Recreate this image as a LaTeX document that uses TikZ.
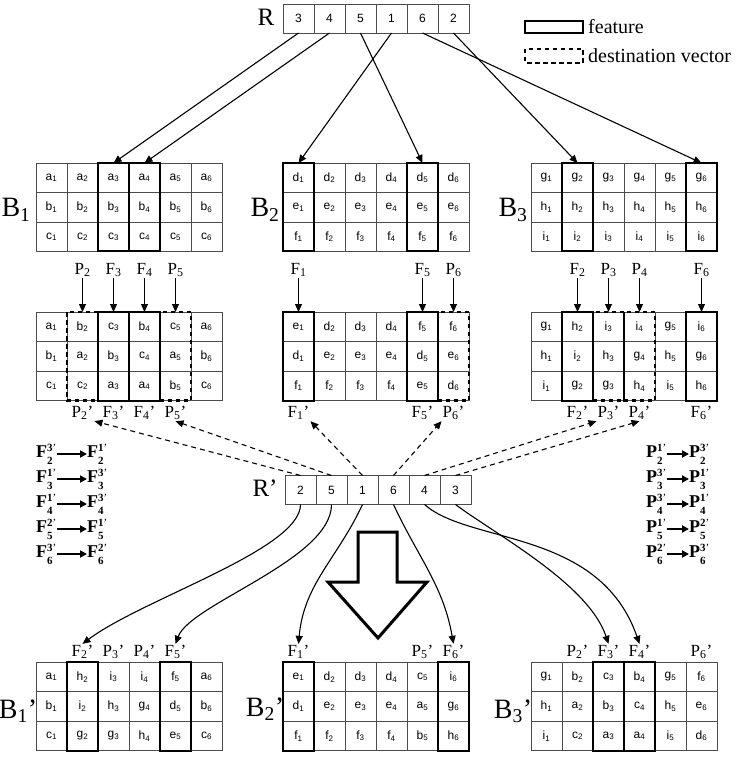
\documentclass[tikz,border=0pt]{standalone}
\usepackage{fontspec}
\setmainfont{Liberation Serif}
\newfontfamily\cellfont{Liberation Sans}
\usetikzlibrary{arrows.meta,calc}
\newcommand\cv[2]{#1\textsubscript{#2}}
\newcommand\cellgrid[6]{%
  \foreach \t [count=\c] in {#4} {\node[cell] (#1-1-\c) at ({#2+31*(\c-0.5)},{#3+14.75}) {\t};}
  \foreach \t [count=\c] in {#5} {\node[cell] (#1-2-\c) at ({#2+31*(\c-0.5)},{#3+44.25}) {\t};}
  \foreach \t [count=\c] in {#6} {\node[cell] (#1-3-\c) at ({#2+31*(\c-0.5)},{#3+73.75}) {\t};}
}
\newcommand\featcol[2]{\draw[feat] (#1-1-#2.north west) rectangle (#1-3-#2.south east);}
\newcommand\destcol[2]{\draw[dest] (#1-1-#2.north west) rectangle (#1-3-#2.south east);}
\newcommand\toplab[4]{\node[lab] (#4) at ($(#1-1-#2.north)+(0,-42)$) {#3}; \draw[arr] (#4) -- (#1-1-#2.north);}
\newcommand\botlab[4]{\node[lab] (#4) at ($(#1-3-#2.south)+(0,12.5)$) {#3};}
\newcommand\uplab[4]{\node[lab] (#4) at ($(#1-1-#2.north)+(0,-10)$) {#3};}
\newcommand\supsub[3]{\textbf{#1}\rlap{\raisebox{-0.36em}{\fontsize{11}{11}\selectfont\textbf{#3}}}\raisebox{0.36em}{\fontsize{11}{11}\selectfont\textbf{#2}’}}
\begin{document}
\begin{tikzpicture}[x=1pt,y=-1pt,
 cell/.style={draw=black!70, line width=0.7pt, minimum width=31pt, minimum height=29.5pt, inner sep=0pt, outer sep=0pt, font=\cellfont\fontsize{12}{12}\selectfont},
 rcell/.style={cell, minimum height=29pt},
 feat/.style={line width=2pt},
 dest/.style={line width=2.5pt, dash pattern=on 4.5pt off 3.5pt},
 lab/.style={font=\fontsize{17}{17}\selectfont, inner sep=1pt},
 big/.style={font=\fontsize{28}{28}\selectfont, inner sep=0pt},
 arr/.style={line width=1.1pt, -{Triangle[length=8pt,width=7pt]}},
 darr/.style={line width=1.1pt, dash pattern=on 5pt off 4pt, -{Triangle[length=8pt,width=7pt]}},
 fml/.style={font=\fontsize{18}{18}\selectfont, inner sep=0pt, anchor=west},
 farr/.style={line width=2pt, -{Triangle[length=7pt,width=7pt]}},
]
\useasboundingbox[fill=white] (0,0) rectangle (736,775);

% ---------- R ----------
\node[font=\fontsize{25}{25}\selectfont, inner sep=0pt] (Rlab) at (266,17) {R};
\foreach \t [count=\c] in {3,4,5,1,6,2} {\node[rcell] (r\c) at ({283+31*(\c-0.5)},18.5) {\t};}

% ---------- legend ----------
\draw[feat, line width=2.5pt] (525,21) rectangle (583,33);
\node[anchor=west, font=\fontsize{20}{20}\selectfont, inner sep=0pt] (legf) at (588,27) {feature};
\draw[dest] (525,49) rectangle (583,63);
\node[anchor=west, font=\fontsize{20}{20}\selectfont, inner sep=0pt] (legd) at (588,56) {destination vector};

% ---------- top grids ----------
\cellgrid{a}{36}{163}{\cv a1,\cv a2,\cv a3,\cv a4,\cv a5,\cv a6}{\cv b1,\cv b2,\cv b3,\cv b4,\cv b5,\cv b6}{\cv c1,\cv c2,\cv c3,\cv c4,\cv c5,\cv c6}
\cellgrid{b}{283}{163}{\cv d1,\cv d2,\cv d3,\cv d4,\cv d5,\cv d6}{\cv e1,\cv e2,\cv e3,\cv e4,\cv e5,\cv e6}{\cv f1,\cv f2,\cv f3,\cv f4,\cv f5,\cv f6}
\cellgrid{c}{531}{163}{\cv g1,\cv g2,\cv g3,\cv g4,\cv g5,\cv g6}{\cv h1,\cv h2,\cv h3,\cv h4,\cv h5,\cv h6}{\cv i1,\cv i2,\cv i3,\cv i4,\cv i5,\cv i6}
\featcol{a}{3}\featcol{a}{4}
\featcol{b}{1}\featcol{b}{5}
\featcol{c}{2}\featcol{c}{6}
\node[big] (B1) at (16,210) {B\textsubscript{1}};
\node[big] (B2) at (265,210) {B\textsubscript{2}};
\node[big] (B3) at (513,210) {B\textsubscript{3}};

% R arrows
\draw[arr] (r1.south) -- (a-1-3.north);
\draw[arr] (r2.south) -- (a-1-4.north);
\draw[arr] (r3.south) -- (b-1-5.north);
\draw[arr] (r4.south) -- (b-1-1.north);
\draw[arr] (r5.south) -- (c-1-6.north);
\draw[arr] (r6.south) -- (c-1-2.north);

% ---------- middle grids ----------
\cellgrid{ma}{36}{312}{\cv a1,\cv b2,\cv c3,\cv b4,\cv c5,\cv a6}{\cv b1,\cv a2,\cv b3,\cv c4,\cv a5,\cv b6}{\cv c1,\cv c2,\cv a3,\cv a4,\cv b5,\cv c6}
\cellgrid{mb}{283}{312}{\cv e1,\cv d2,\cv d3,\cv d4,\cv f5,\cv f6}{\cv d1,\cv e2,\cv e3,\cv e4,\cv d5,\cv e6}{\cv f1,\cv f2,\cv f3,\cv f4,\cv e5,\cv d6}
\cellgrid{mc}{531}{312}{\cv g1,\cv h2,\cv i3,\cv i4,\cv g5,\cv i6}{\cv h1,\cv i2,\cv h3,\cv g4,\cv h5,\cv g6}{\cv i1,\cv g2,\cv g3,\cv h4,\cv i5,\cv h6}
\featcol{ma}{3}\featcol{ma}{4}\destcol{ma}{2}\destcol{ma}{5}
\featcol{mb}{1}\featcol{mb}{5}\destcol{mb}{6}
\featcol{mc}{2}\featcol{mc}{6}\destcol{mc}{3}\destcol{mc}{4}

\toplab{ma}{2}{P\textsubscript{2}}{t1-2}
\toplab{ma}{3}{F\textsubscript{3}}{t1-3}
\toplab{ma}{4}{F\textsubscript{4}}{t1-4}
\toplab{ma}{5}{P\textsubscript{5}}{t1-5}
\toplab{mb}{1}{F\textsubscript{1}}{t2-1}
\toplab{mb}{5}{F\textsubscript{5}}{t2-5}
\toplab{mb}{6}{P\textsubscript{6}}{t2-6}
\toplab{mc}{2}{F\textsubscript{2}}{t3-2}
\toplab{mc}{3}{P\textsubscript{3}}{t3-3}
\toplab{mc}{4}{P\textsubscript{4}}{t3-4}
\toplab{mc}{6}{F\textsubscript{6}}{t3-6}

\botlab{ma}{2}{P\textsubscript{2}'}{v1-2}
\botlab{ma}{3}{F\textsubscript{3}'}{v1-3}
\botlab{ma}{4}{F\textsubscript{4}'}{v1-4}
\botlab{ma}{5}{P\textsubscript{5}'}{v1-5}
\botlab{mb}{1}{F\textsubscript{1}'}{v2-1}
\botlab{mb}{5}{F\textsubscript{5}'}{v2-5}
\botlab{mb}{6}{P\textsubscript{6}'}{v2-6}
\botlab{mc}{2}{F\textsubscript{2}'}{v3-2}
\botlab{mc}{3}{P\textsubscript{3}'}{v3-3}
\botlab{mc}{4}{P\textsubscript{4}'}{v3-4}
\botlab{mc}{6}{F\textsubscript{6}'}{v3-6}

% ---------- R' ----------
\node[font=\fontsize{25}{25}\selectfont, inner sep=0pt] (Rplab) at (265,488) {R'};
\foreach \t [count=\c] in {2,5,1,6,4,3} {\node[rcell] (rp\c) at ({285+31*(\c-0.5)},490) {\t};}

\draw[darr] (rp1.north) -- (v1-2.south east);
\draw[darr] (rp2.north) -- (v1-5.south);
\draw[darr] (rp3.north) -- (v2-1.south east);
\draw[darr] (rp4.north) -- (v2-6.south west);
\draw[darr] (rp5.north) -- (v3-3.south west);
\draw[darr] (rp6.north) -- (v3-4.south);

% ---------- formulas ----------
\node[fml] (fa) at (36,454) {\supsub{F}{3}{2}};
\node[fml] (fb) at (87,454) {\supsub{F}{1}{2}};
\draw[farr] (fa) -- (fb);
\node[fml] (fc) at (36,479) {\supsub{F}{1}{3}};
\node[fml] (fd) at (87,479) {\supsub{F}{3}{3}};
\draw[farr] (fc) -- (fd);
\node[fml] (fe) at (36,504) {\supsub{F}{1}{4}};
\node[fml] (ff) at (87,504) {\supsub{F}{3}{4}};
\draw[farr] (fe) -- (ff);
\node[fml] (fg) at (36,529) {\supsub{F}{2}{5}};
\node[fml] (fh) at (87,529) {\supsub{F}{1}{5}};
\draw[farr] (fg) -- (fh);
\node[fml] (fi) at (36,554) {\supsub{F}{3}{6}};
\node[fml] (fj) at (87,554) {\supsub{F}{2}{6}};
\draw[farr] (fi) -- (fj);
\node[fml] (pa) at (646,454) {\supsub{P}{1}{2}};
\node[fml] (pb) at (689,454) {\supsub{P}{3}{2}};
\draw[farr] (pa) -- (pb);
\node[fml] (pc) at (646,479) {\supsub{P}{3}{3}};
\node[fml] (pd) at (689,479) {\supsub{P}{1}{3}};
\draw[farr] (pc) -- (pd);
\node[fml] (pe) at (646,504) {\supsub{P}{3}{4}};
\node[fml] (pf) at (689,504) {\supsub{P}{1}{4}};
\draw[farr] (pe) -- (pf);
\node[fml] (pg) at (646,529) {\supsub{P}{1}{5}};
\node[fml] (ph) at (689,529) {\supsub{P}{2}{5}};
\draw[farr] (pg) -- (ph);
\node[fml] (pi) at (646,554) {\supsub{P}{2}{6}};
\node[fml] (pj) at (689,554) {\supsub{P}{3}{6}};
\draw[farr] (pi) -- (pj);

% ---------- big arrow ----------
\draw[line width=3pt, fill=white, line join=miter] (358,532) -- (397,532) -- (397,582) -- (427,582) -- (378,638) -- (328,582) -- (358,582) -- cycle;

% ---------- bottom grids ----------
\cellgrid{ba}{36}{662}{\cv a1,\cv h2,\cv i3,\cv i4,\cv f5,\cv a6}{\cv b1,\cv i2,\cv h3,\cv g4,\cv d5,\cv b6}{\cv c1,\cv g2,\cv g3,\cv h4,\cv e5,\cv c6}
\cellgrid{bb}{283}{662}{\cv e1,\cv d2,\cv d3,\cv d4,\cv c5,\cv i6}{\cv d1,\cv e2,\cv e3,\cv e4,\cv a5,\cv g6}{\cv f1,\cv f2,\cv f3,\cv f4,\cv b5,\cv h6}
\cellgrid{bc}{531}{662}{\cv g1,\cv b2,\cv c3,\cv b4,\cv g5,\cv f6}{\cv h1,\cv a2,\cv b3,\cv c4,\cv h5,\cv e6}{\cv i1,\cv c2,\cv a3,\cv a4,\cv i5,\cv d6}
\featcol{ba}{2}\featcol{ba}{5}
\featcol{bb}{1}\featcol{bb}{6}
\featcol{bc}{3}\featcol{bc}{4}
\node[big] (B1p) at (18,711) {B\textsubscript{1}'};
\node[big] (B2p) at (265,709) {B\textsubscript{2}'};
\node[big] (B3p) at (513,711) {B\textsubscript{3}'};

\uplab{ba}{2}{F\textsubscript{2}'}{u1-2}
\uplab{ba}{3}{P\textsubscript{3}'}{u1-3}
\uplab{ba}{4}{P\textsubscript{4}'}{u1-4}
\uplab{ba}{5}{F\textsubscript{5}'}{u1-5}
\uplab{bb}{1}{F\textsubscript{1}'}{u2-1}
\uplab{bb}{5}{P\textsubscript{5}'}{u2-5}
\uplab{bb}{6}{F\textsubscript{6}'}{u2-6}
\uplab{bc}{2}{P\textsubscript{2}'}{u3-2}
\uplab{bc}{3}{F\textsubscript{3}'}{u3-3}
\uplab{bc}{4}{F\textsubscript{4}'}{u3-4}
\uplab{bc}{6}{P\textsubscript{6}'}{u3-6}

% curved arrows from R'
\draw[arr] (rp1.south) .. controls +(0,45) and +(60,-45) .. (u1-2.north);
\draw[arr] (rp2.south) .. controls +(0,55) and +(15,-40) .. (u1-5.north);
\draw[arr] (rp3.south) to[out=-115,in=85] (u2-1.north);
\draw[arr] (rp4.south) to[out=-65,in=100] (u2-6.north);
\draw[arr] (rp5.south) .. controls +(45,40) and +(-40,-115) .. (u3-4.north);
\draw[arr] (rp6.south) .. controls +(40,30) and +(-20,-60) .. (u3-3.north);
\end{tikzpicture}
\end{document}
